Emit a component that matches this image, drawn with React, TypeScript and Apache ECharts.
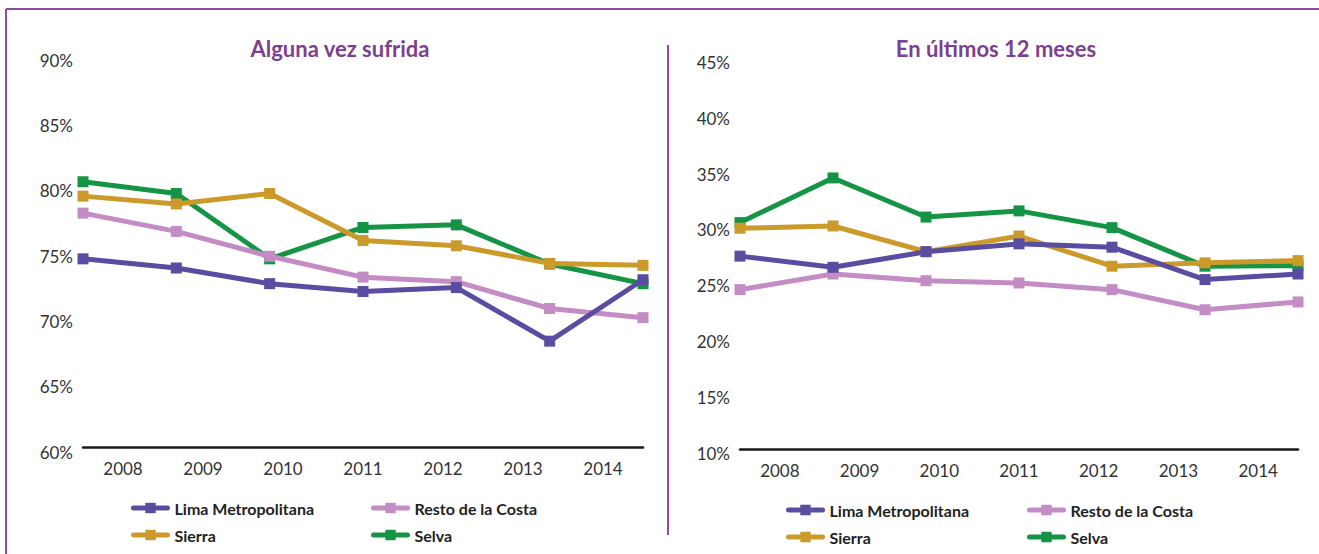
import React, { useEffect, useRef } from "react";
import * as echarts from "echarts";

const years = ["2008", "2009", "2010", "2011", "2012", "2013", "2014"];
const seriesNames = ["Lima Metropolitana", "Resto de la Costa", "Sierra", "Selva"];
const seriesColors = ["#5a4ca1", "#c48cc4", "#cc9a2a", "#169446"];

// Alguna vez sufrida (%)
const alguna_lima = [74.4, 73.7, 72.5, 71.9, 72.2, 68.1, 72.8];
const alguna_costa = [77.9, 76.5, 74.6, 73.0, 72.65, 70.6, 69.9];
const alguna_sierra = [79.2, 78.6, 79.4, 75.8, 75.4, 74.05, 73.9];
const alguna_selva = [80.3, 79.4, 74.4, 76.8, 77.0, 74.0, 72.5];

// En últimos 12 meses (%)
const ultimos_lima = [27.3, 26.3, 27.7, 28.4, 28.1, 25.2, 25.7];
const ultimos_costa = [24.3, 25.7, 25.1, 24.9, 24.3, 22.5, 23.2];
const ultimos_sierra = [29.8, 30.0, 27.7, 29.1, 26.4, 26.7, 26.9];
const ultimos_selva = [30.3, 34.3, 30.8, 31.35, 29.85, 26.4, 26.45];

const leftTicks = { min: 60, max: 90, interval: 5 };
const rightTicks = { min: 10, max: 45, interval: 5 };

const FONT = "Lato";
const PURPLE = "#8d4a9e";

export default function App() {
  const ref = useRef<HTMLDivElement>(null);

  useEffect(() => {
    document.body.style.margin = "0";
    const chart = echarts.init(ref.current!, null, { renderer: "svg" });

    const leftData = [alguna_lima, alguna_costa, alguna_sierra, alguna_selva];
    const rightData = [ultimos_lima, ultimos_costa, ultimos_sierra, ultimos_selva];
    const drawOrder = [3, 2, 1, 0];

    const mkSeries = (data: number[][], xIdx: number, yIdx: number) =>
      drawOrder.map((i) => ({
        type: "line",
        name: seriesNames[i],
        xAxisIndex: xIdx,
        yAxisIndex: yIdx,
        data: data[i],
        symbol: "rect",
        symbolSize: 11,
        showSymbol: true,
        lineStyle: { width: 5, color: seriesColors[i] },
        itemStyle: { color: seriesColors[i] },
        z: 2 + (3 - i),
      }));

    const labelAxis = (gridIndex: number) => ({
      type: "category",
      gridIndex,
      data: years,
      boundaryGap: true,
      position: "bottom",
      axisLine: { show: true, lineStyle: { color: "#1a1a1a", width: 2.5 } },
      axisTick: { show: false },
      axisLabel: { color: "#333", fontFamily: FONT, fontSize: 17, margin: 13 },
      splitLine: { show: false },
    });
    const pointAxis = (gridIndex: number) => ({
      type: "category",
      gridIndex,
      data: years,
      boundaryGap: false,
      position: "bottom",
      show: false,
    });
    const valAxis = (
      gridIndex: number,
      t: { min: number; max: number; interval: number },
      shift: number
    ) => ({
      type: "value",
      gridIndex,
      min: t.min,
      max: t.max,
      interval: t.interval,
      axisLine: { show: false },
      axisTick: { show: false },
      splitLine: { show: false },
      axisLabel: {
        color: "#333",
        fontFamily: FONT,
        fontSize: 17,
        margin: 10,
        verticalAlign: "top",
        lineHeight: shift * 2,
        formatter: "{value}%",
      },
    });

    const legendPos = [
      // left chart
      { name: seriesNames[0], left: 126, top: 495 },
      { name: seriesNames[1], left: 366, top: 495 },
      { name: seriesNames[2], left: 126, top: 522 },
      { name: seriesNames[3], left: 366, top: 522 },
      // right chart
      { name: seriesNames[0], left: 781, top: 497 },
      { name: seriesNames[1], left: 1022, top: 497 },
      { name: seriesNames[2], left: 781, top: 524 },
      { name: seriesNames[3], left: 1022, top: 524 },
    ];

    chart.setOption({
      animation: false,
      backgroundColor: "#ffffff",
      title: [
        {
          text: "Alguna vez sufrida",
          left: 335,
          top: 32,
          textAlign: "center",
          textStyle: { color: "#7d3f90", fontFamily: FONT, fontWeight: "bold", fontSize: 22 },
        },
        {
          text: "En últimos 12 meses",
          left: 991,
          top: 32,
          textAlign: "center",
          textStyle: { color: "#7d3f90", fontFamily: FONT, fontWeight: "bold", fontSize: 22 },
        },
      ],
      legend: legendPos.map((p) => ({
        data: [p.name],
        left: p.left,
        top: p.top,
        itemWidth: 34,
        itemHeight: 13,
        selectedMode: false,
        lineStyle: { width: 5, cap: "round" },
        textStyle: {
          color: "#222",
          fontFamily: FONT,
          fontWeight: "bold",
          fontSize: 16,
          padding: [0, 0, 0, 2],
        },
      })),
      grid: [
        { left: 83, top: 55, width: 560, height: 392, containLabel: false },
        { left: 740, top: 58.4, width: 558, height: 391, containLabel: false },
      ],
      xAxis: [labelAxis(0), pointAxis(0), labelAxis(1), pointAxis(1)],
      yAxis: [valAxis(0, leftTicks, 5), valAxis(1, rightTicks, 4)],
      series: [...mkSeries(leftData, 1, 0), ...mkSeries(rightData, 3, 1)],
      graphic: [
        {
          type: "line",
          shape: { x1: 6, y1: 9, x2: 1319, y2: 9 },
          style: { stroke: PURPLE, lineWidth: 2 },
          silent: true,
        },
        {
          type: "line",
          shape: { x1: 6, y1: 9, x2: 6, y2: 554 },
          style: { stroke: PURPLE, lineWidth: 2 },
          silent: true,
        },
        {
          type: "line",
          shape: { x1: 668, y1: 45, x2: 668, y2: 535 },
          style: { stroke: PURPLE, lineWidth: 2 },
          silent: true,
        },
      ],
    });

    return () => chart.dispose();
  }, []);

  return <div ref={ref} style={{ width: 1319, height: 554 }} />;
}
